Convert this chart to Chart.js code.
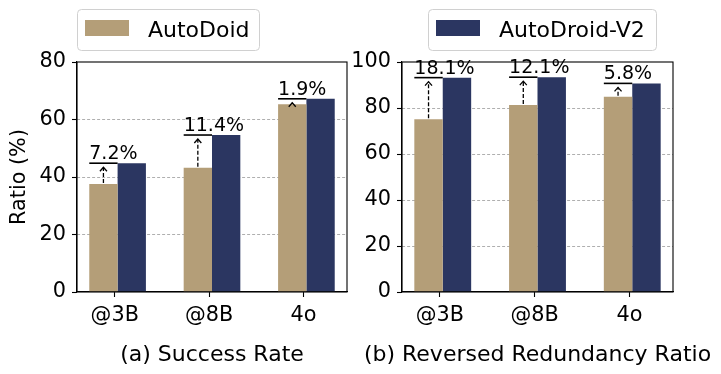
<!DOCTYPE html>
<html lang="en">
<head>
    <meta charset="UTF-8">
    <title>AutoDroid vs AutoDroid-V2</title>
    <script src="https://cdn.jsdelivr.net/npm/chart.js"></script>
    <style>
        html, body {
            margin: 0;
            padding: 0;
            background: #fff;
        }
        #wrap {
            position: relative;
            width: 721px;
            height: 374px;
            overflow: hidden;
        }
        .panel {
            position: absolute;
            top: 0;
            height: 374px;
        }
        #left {
            left: 0;
            width: 360px;
        }
        #right {
            left: 340px;
            width: 381px;
        }
    </style>
</head>
<body>
<div id="wrap">
    <div class="panel" id="left"><canvas id="successChart"></canvas></div>
    <div class="panel" id="right"><canvas id="redundancyChart"></canvas></div>
</div>

<script>
    // values
    const categories = ['@3B', '@8B', '4o'];

    const successAutoDroid = [37.6, 43.2, 65.3];
    const successV2 = [44.8, 54.6, 67.2];
    const successGain = ['7.2%', '11.4%', '1.9%'];

    const redundancyAutoDroid = [75.1, 81.3, 84.9];
    const redundancyV2 = [93.2, 93.4, 90.7];
    const redundancyGain = ['18.1%', '12.1%', '5.8%'];

    const successTicks = { min: 0, max: 80, step: 20 };
    const redundancyTicks = { min: 0, max: 100, step: 20 };

    const TAN = '#b49e78';
    const NAVY = '#2b3661';

    Chart.defaults.font.family = "'DejaVu Sans', sans-serif";
    Chart.defaults.color = '#000';

    // top and right spines, like a matplotlib axes box
    const framePlugin = {
        id: 'frame',
        afterDatasetsDraw(chart) {
            const a = chart.chartArea;
            const ctx = chart.ctx;
            ctx.save();
            ctx.strokeStyle = '#000';
            ctx.lineWidth = 1.1;
            ctx.strokeRect(a.left, a.top, a.right - a.left, a.bottom - a.top);
            ctx.restore();
        }
    };

    // "+x%" marks: dashed arrow from the AutoDroid bar up to the V2 level
    const gainPlugin = {
        id: 'gain',
        afterDatasetsDraw(chart, args, opts) {
            const ctx = chart.ctx;
            const base = chart.getDatasetMeta(0).data;
            const top = chart.getDatasetMeta(1).data;
            ctx.save();
            base.forEach((bar, i) => {
                const left = bar.x - bar.width / 2;
                const right = bar.x + bar.width / 2;
                const yLine = top[i].y;
                const tip = yLine + 4;

                ctx.strokeStyle = '#000';
                ctx.lineWidth = 1.6;
                ctx.setLineDash([]);
                ctx.beginPath();
                ctx.moveTo(left, yLine);
                ctx.lineTo(right, yLine);
                ctx.stroke();

                ctx.lineWidth = 1.3;
                if (bar.y - 1 > tip) {
                    ctx.setLineDash([4, 2]);
                    ctx.beginPath();
                    ctx.moveTo(bar.x, bar.y - 1);
                    ctx.lineTo(bar.x, tip);
                    ctx.stroke();
                }
                ctx.setLineDash([]);
                ctx.beginPath();
                ctx.moveTo(bar.x - 3.5, tip + 4);
                ctx.lineTo(bar.x, tip);
                ctx.lineTo(bar.x + 3.5, tip + 4);
                ctx.stroke();

                ctx.fillStyle = '#000';
                ctx.font = "19px 'DejaVu Sans', sans-serif";
                ctx.textAlign = 'left';
                ctx.textBaseline = 'alphabetic';
                ctx.fillText(opts.labels[i], left, yLine - 4);
            });
            ctx.restore();
        }
    };

    // boxed single-entry legend
    const boxLegendPlugin = {
        id: 'boxLegend',
        afterDraw(chart, args, opts) {
            const ctx = chart.ctx;
            const ds = chart.data.datasets[opts.dataset];
            const b = opts.box;
            ctx.save();
            ctx.fillStyle = 'rgba(255,255,255,0.8)';
            ctx.strokeStyle = '#d0d0d0';
            ctx.lineWidth = 1;
            ctx.beginPath();
            ctx.roundRect(b.x + 0.5, b.y + 0.5, b.w, b.h, 4);
            ctx.fill();
            ctx.stroke();
            ctx.fillStyle = ds.backgroundColor;
            ctx.fillRect(b.x + 8, b.y + 11, 44, 16);
            ctx.fillStyle = '#000';
            ctx.font = "22px 'DejaVu Sans', sans-serif";
            ctx.textAlign = 'left';
            ctx.textBaseline = 'alphabetic';
            ctx.fillText(ds.label, b.x + 71, b.y + 27.5);
            ctx.restore();
        }
    };

    // caption under the x axis, not squeezed to the axis width
    const captionPlugin = {
        id: 'caption',
        afterDraw(chart, args, opts) {
            const a = chart.chartArea;
            const ctx = chart.ctx;
            ctx.save();
            ctx.fillStyle = '#000';
            ctx.font = "22px 'DejaVu Sans', sans-serif";
            ctx.textAlign = 'center';
            ctx.textBaseline = 'alphabetic';
            ctx.fillText(opts.text, (a.left + a.right) / 2, 361);
            ctx.restore();
        }
    };

    function points(values) {
        return values.map((v, i) => ({ x: i, y: v }));
    }

    function makeChart(id, base, improved, gain, yRange, opts) {
        const tickShift = -0.03;
        return new Chart(document.getElementById(id), {
            type: 'bar',
            data: {
                datasets: [
                    { label: 'AutoDoid', data: points(base), backgroundColor: TAN, borderWidth: 0 },
                    { label: 'AutoDroid-V2', data: points(improved), backgroundColor: NAVY, borderWidth: 0 }
                ]
            },
            plugins: [framePlugin, gainPlugin, boxLegendPlugin, captionPlugin],
            options: {
                responsive: false,
                animation: false,
                events: [],
                barPercentage: 1.0,
                categoryPercentage: 0.6,
                layout: { padding: { left: 0, top: 62, right: opts.padRight, bottom: 0 } },
                plugins: {
                    legend: { display: false },
                    tooltip: { enabled: false },
                    gain: { labels: gain },
                    boxLegend: { dataset: opts.legendDataset, box: opts.legendBox },
                    caption: { text: opts.xTitle }
                },
                scales: {
                    x: {
                        type: 'linear',
                        min: -0.43,
                        max: categories.length - 1 + 0.43,
                        offset: false,
                        grid: {
                            offset: false,
                            drawOnChartArea: false,
                            drawTicks: true,
                            tickLength: 5,
                            tickColor: '#000',
                            tickWidth: 1.1
                        },
                        border: { color: '#000', width: 1.1 },
                        afterBuildTicks(axis) {
                            axis.ticks = categories.map((c, i) => ({ value: i + tickShift }));
                        },
                        afterFit(axis) {
                            axis.height = 82;
                        },
                        ticks: {
                            font: { size: 20.8 },
                            padding: 6,
                            maxRotation: 0,
                            callback: (v, i) => categories[i]
                        }
                    },
                    y: {
                        min: yRange.min,
                        max: yRange.max,
                        grid: {
                            color: ctx => (ctx.tick.value === yRange.min || ctx.tick.value === yRange.max)
                                ? 'rgba(0,0,0,0)' : '#9a9a9a',
                            lineWidth: 0.8,
                            drawTicks: true,
                            tickLength: 5,
                            tickColor: '#000',
                            tickWidth: 1.1,
                            tickBorderDash: []
                        },
                        border: { color: '#000', width: 1.1, dash: [3, 2] },
                        afterFit(axis) {
                            axis.width = opts.yWidth;
                        },
                        ticks: {
                            stepSize: yRange.step,
                            font: { size: 20.8 },
                            padding: 6
                        },
                        title: {
                            display: !!opts.yTitle,
                            text: opts.yTitle,
                            font: { size: 20.8 },
                            padding: { top: 7, bottom: 0 }
                        }
                    }
                }
            }
        });
    }

    const leftCanvas = document.getElementById('successChart');
    leftCanvas.width = 360;
    leftCanvas.height = 374;
    const rightCanvas = document.getElementById('redundancyChart');
    rightCanvas.width = 381;
    rightCanvas.height = 374;

    makeChart('successChart', successAutoDroid, successV2, successGain, successTicks, {
        padRight: 13,
        yWidth: 77,
        yTitle: 'Ratio (%)',
        xTitle: '(a) Success Rate',
        legendDataset: 0,
        legendBox: { x: 77, y: 9, w: 182, h: 41 }
    });

    makeChart('redundancyChart', redundancyAutoDroid, redundancyV2, redundancyGain, redundancyTicks, {
        padRight: 48,
        yWidth: 62,
        yTitle: '',
        xTitle: '(b) Reversed Redundancy Ratio',
        legendDataset: 1,
        legendBox: { x: 88, y: 9, w: 228, h: 41 }
    });
</script>
</body>
</html>
